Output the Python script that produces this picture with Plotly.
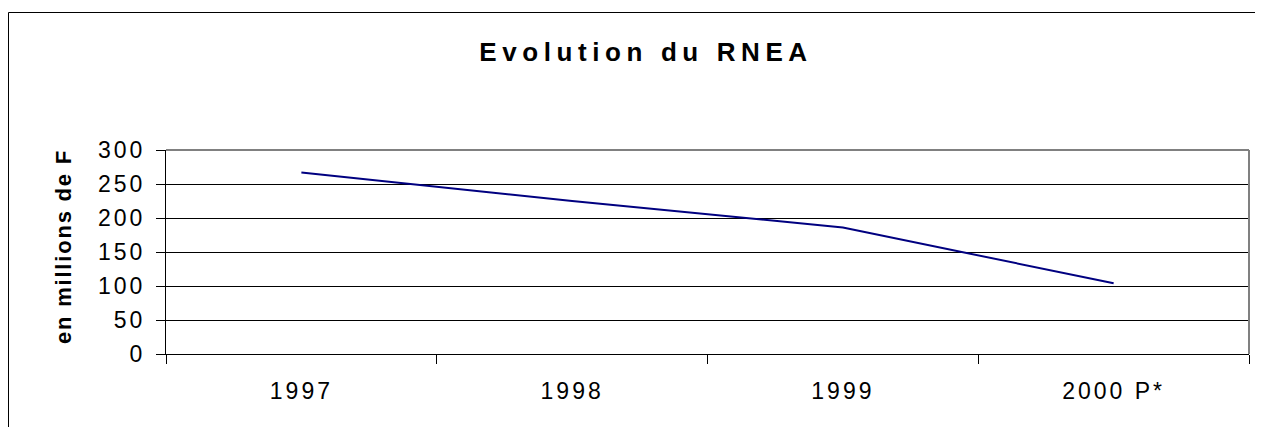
import plotly.graph_objects as go

categories = ["1997", "1998", "1999", "2000 P*"]
rnea_values = [267, 225, 186, 104]
y_ticks = [0, 50, 100, 150, 200, 250, 300]

# page body has an 8px margin, so the figure is offset by 8px
OFF = 8
W, H = 1263 - OFF, 427 - OFF
L, R, T, B = 166 - OFF, 14, 150 - OFF, 73
pw, ph = W - L - R, H - T - B

def px(x):
    return (x - OFF - L) / pw

def py(y):
    return (H - B - (y - OFF)) / ph

def spaced(s, sp):
    return f'<span style="letter-spacing:{sp}px">{s}</span>'

fig = go.Figure()
fig.add_trace(go.Scatter(
    x=categories, y=rnea_values, mode="lines",
    line=dict(color="#000080", width=2), hoverinfo="x+y",
))

font_family = "Liberation Sans, Arial, sans-serif"

fig.update_layout(
    width=W, height=H,
    margin=dict(l=L, r=R, t=T, b=B),
    paper_bgcolor="white", plot_bgcolor="white",
    showlegend=False,
    font=dict(family=font_family, size=23, color="black"),
    title=dict(
        text="<b>" + spaced("Evolution du RNEA", 5.6) + "</b>",
        x=px(646), xref="paper", xanchor="center",
        y=1 - (52 - OFF) / H, yref="container", yanchor="middle",
        font=dict(family=font_family, size=26, color="black"),
    ),
    xaxis=dict(
        type="category", range=[-0.5, 3.5],
        tickmode="array", tickvals=categories,
        ticktext=[spaced(c, 3) for c in categories],
        tickson="boundaries", ticks="outside", ticklen=9, tickcolor="black",
        showline=True, linecolor="black", linewidth=1,
        showgrid=False, zeroline=False,
        tickfont=dict(size=23), ticklabelstandoff=16,
    ),
    yaxis=dict(
        range=[0, 300], tickvals=y_ticks,
        ticktext=[spaced(str(v), 3) for v in y_ticks],
        ticks="outside", ticklen=9, tickcolor="black",
        showline=True, linecolor="black", linewidth=1,
        showgrid=True, gridcolor="black", gridwidth=1,
        zeroline=False, tickfont=dict(size=23), ticklabelstandoff=6,
    ),
    annotations=[
        dict(text="<b>" + spaced("en millions de F", 1.8) + "</b>",
             xref="paper", yref="paper", x=px(63), y=py(247),
             xanchor="center", yanchor="middle", textangle=-90,
             showarrow=False, font=dict(size=22, color="black")),
    ],
    shapes=[
        dict(type="line", xref="paper", yref="paper", x0=0, x1=1, y0=1, y1=1,
             line=dict(color="#808080", width=2), layer="above"),
        dict(type="line", xref="paper", yref="paper", x0=1, x1=1, y0=0, y1=1,
             line=dict(color="#808080", width=2), layer="above"),
        dict(type="rect", xref="paper", yref="paper",
             x0=px(8.5), x1=px(1263 + 5), y0=py(427 + 5), y1=py(12.5),
             line=dict(color="black", width=1), fillcolor="rgba(0,0,0,0)", layer="below"),
    ],
)

fig.write_html("out.html")
